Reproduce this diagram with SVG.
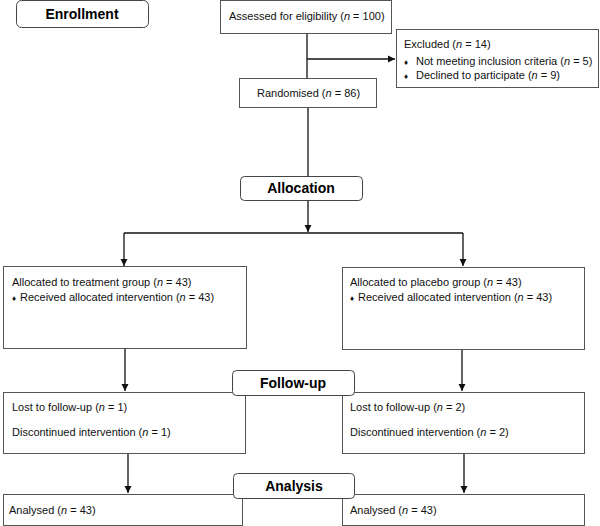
<svg xmlns="http://www.w3.org/2000/svg" width="600" height="526" viewBox="0 0 600 526">
<style>
.box{fill:#fff;stroke:#555;stroke-width:1}
.hd{fill:#fff;stroke:#444;stroke-width:1}
.t{font-family:"Liberation Sans",Arial,sans-serif;font-size:11px;fill:#111}
.h{font-family:"Liberation Sans",Arial,sans-serif;font-size:14px;font-weight:bold;fill:#000;text-anchor:middle}
.b{font-size:8px}
.c{stroke:#111;stroke-width:1.3;fill:none}
</style>
<defs>
<marker id="ar" markerWidth="8" markerHeight="8" refX="7" refY="4" orient="auto" markerUnits="userSpaceOnUse">
<path d="M0,0.5 L7,4 L0,7.5 Z" fill="#111"/>
</marker>
</defs>
<rect width="600" height="526" fill="#fff"/>
<g id="connectors">
<line class="c" x1="307" y1="34" x2="307" y2="78"/>
<line class="c" x1="307" y1="59" x2="395" y2="59" marker-end="url(#ar)"/>
<line class="c" x1="308" y1="108" x2="308" y2="176"/>
<line class="c" x1="308" y1="200" x2="308" y2="232" marker-end="url(#ar)"/>
<line class="c" x1="124" y1="233" x2="463" y2="233"/>
<line class="c" x1="124" y1="233" x2="124" y2="266" marker-end="url(#ar)"/>
<line class="c" x1="463" y1="233" x2="463" y2="266" marker-end="url(#ar)"/>
<line class="c" x1="125" y1="349" x2="125" y2="391" marker-end="url(#ar)"/>
<line class="c" x1="462" y1="350" x2="462" y2="391" marker-end="url(#ar)"/>
<line class="c" x1="128" y1="454" x2="128" y2="493" marker-end="url(#ar)"/>
<line class="c" x1="464" y1="454" x2="464" y2="493" marker-end="url(#ar)"/>
</g>
<g id="enrollment"><rect class="hd" x="16.5" y="0.5" width="132" height="27" rx="5"/><text class="h" x="82" y="19">Enrollment</text></g>
<g id="assessed"><rect class="box" x="220.5" y="0.5" width="171" height="33"/><text class="t" x="229" y="20">Assessed for eligibility (<tspan font-style="italic">n</tspan> = 100)</text></g>
<g id="excluded"><rect class="box" x="396.5" y="29.5" width="202" height="58"/>
<text class="t" x="404" y="48">Excluded (<tspan font-style="italic">n</tspan> = 14)</text>
<text class="t" x="404" y="65"><tspan class="b">♦</tspan><tspan x="416">Not meeting inclusion criteria (</tspan><tspan font-style="italic">n</tspan> = 5)</text>
<text class="t" x="404" y="79"><tspan class="b">♦</tspan><tspan x="416">Declined to participate (</tspan><tspan font-style="italic">n</tspan> = 9)</text></g>
<g id="randomised"><rect class="box" x="239.5" y="78.5" width="137" height="29"/><text class="t" x="257" y="97">Randomised (<tspan font-style="italic">n</tspan> = 86)</text></g>
<g id="allocation"><rect class="hd" x="240.5" y="176.5" width="122" height="24" rx="4"/><text class="h" x="301" y="193">Allocation</text></g>
<g id="treatment"><rect class="box" x="3.5" y="266.5" width="243" height="82"/>
<text class="t" x="12" y="286">Allocated to treatment group (<tspan font-style="italic">n</tspan> = 43)</text>
<text class="t" x="12" y="301"><tspan class="b">♦</tspan><tspan x="20">Received allocated intervention (</tspan><tspan font-style="italic">n</tspan> = 43)</text></g>
<g id="placebo"><rect class="box" x="342.5" y="267.5" width="242" height="82"/>
<text class="t" x="350" y="286">Allocated to placebo group (<tspan font-style="italic">n</tspan> = 43)</text>
<text class="t" x="350" y="301"><tspan class="b">♦</tspan><tspan x="358">Received allocated intervention (</tspan><tspan font-style="italic">n</tspan> = 43)</text></g>
<g id="followup-left"><rect class="box" x="3.5" y="392.5" width="242" height="61"/>
<text class="t" x="12" y="411">Lost to follow-up (<tspan font-style="italic">n</tspan> = 1)</text>
<text class="t" x="12" y="436">Discontinued intervention (<tspan font-style="italic">n</tspan> = 1)</text></g>
<g id="followup-right"><rect class="box" x="342.5" y="392.5" width="242" height="61"/>
<text class="t" x="350" y="411">Lost to follow-up (<tspan font-style="italic">n</tspan> = 2)</text>
<text class="t" x="350" y="436">Discontinued intervention (<tspan font-style="italic">n</tspan> = 2)</text></g>
<g id="followup"><rect class="hd" x="232.5" y="370.5" width="122" height="25" rx="4"/><text class="h" x="293" y="388">Follow-up</text></g>
<g id="analysed-left"><rect class="box" x="3.5" y="494.5" width="239" height="31"/><text class="t" x="9" y="514">Analysed (<tspan font-style="italic">n</tspan> = 43)</text></g>
<g id="analysed-right"><rect class="box" x="342.5" y="494.5" width="242" height="31"/><text class="t" x="350" y="514">Analysed (<tspan font-style="italic">n</tspan> = 43)</text></g>
<g id="analysis"><rect class="hd" x="233.5" y="473.5" width="121" height="25" rx="4"/><text class="h" x="294" y="491">Analysis</text></g>
</svg>
